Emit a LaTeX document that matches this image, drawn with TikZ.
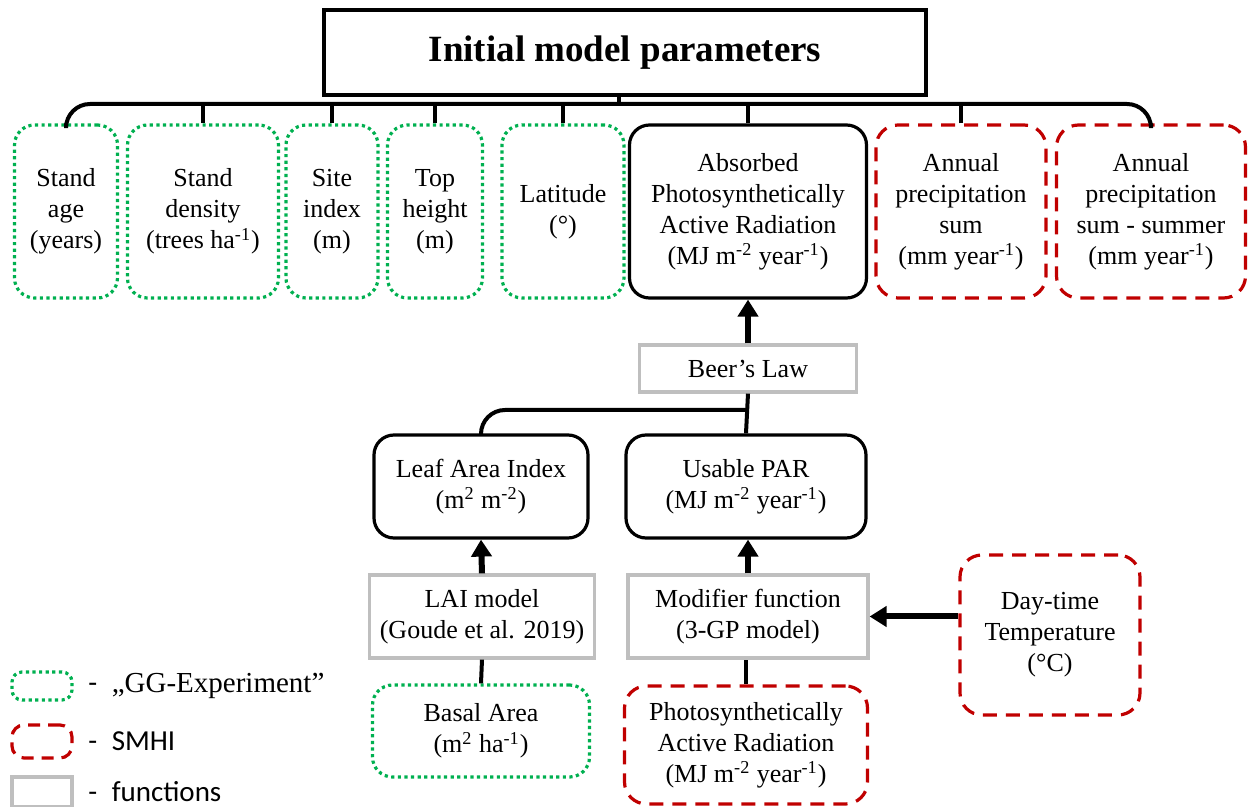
\documentclass[tikz,border=0pt]{standalone}
\usepackage{fontspec}
\setmainfont{Liberation Serif}
\newfontfamily\legendsans{Carlito}
\usepackage{xcolor}
\usetikzlibrary{arrows.meta}
\definecolor{gggreen}{RGB}{0,176,80}
\definecolor{smhired}{RGB}{192,0,0}
\definecolor{funcgray}{RGB}{191,191,191}
\tikzset{
  every node/.style={align=center, inner sep=0pt, font=\fontsize{13}{15.5}\selectfont},
  boxsize/.style 2 args={minimum width=#1*0.5pt, minimum height=#2*0.5pt},
  param/.style={draw=black, line width=1.6pt, rounded corners=10pt},
  gg/.style={draw=gggreen, line width=1.6pt, dash pattern=on 1.6pt off 1.7pt, rounded corners=10pt},
  smhi/.style={draw=smhired, line width=1.6pt, dash pattern=on 7pt off 4.5pt, rounded corners=11pt},
  func/.style={draw=funcgray, line width=1.6pt},
  link/.style={line width=2pt, black},
  feed/.style={line width=3pt, black, -{Triangle[width=10pt,length=8.5pt]}}
}
\begin{document}
\begin{tikzpicture}[x=0.5pt, y=-0.5pt]
\useasboundingbox (0,0) rectangle (1249,807);
\node (title) at (625,53) [draw, line width=2pt, boxsize={602}{85}, font=\fontsize{18.5}{22}\selectfont\bfseries] {Initial model parameters};
\node (age) at (66,211.5) [gg, boxsize={103}{173}] {Stand\\age\\(years)};
\node (density) at (203,211.5) [gg, boxsize={151}{173}] {Stand\\density\\(trees ha\textsuperscript{-1})};
\node (site) at (332,211.5) [gg, boxsize={92}{173}] {Site\\index\\(m)};
\node (top) at (435,211.5) [gg, boxsize={95}{173}] {Top\\height\\(m)};
\node (lat) at (563,211.5) [gg, boxsize={122}{173}] {Latitude\\(°)};
\node (apar) at (748,211.5) [param, boxsize={237}{173}] {Absorbed\\Photosynthetically\\Active Radiation\\(MJ m\textsuperscript{-2} year\textsuperscript{-1})};
\node (annual) at (961,211.5) [smhi, boxsize={170}{173}] {Annual\\precipitation\\sum\\(mm year\textsuperscript{-1})};
\node (summer) at (1151,211.5) [smhi, boxsize={189}{173}] {Annual\\precipitation\\sum - summer\\(mm year\textsuperscript{-1})};
\node (beer) at (748,368.5) [func, boxsize={217}{47}] {Beer’s Law};
\node (lai) at (481,486.5) [param, boxsize={214}{103}] {Leaf Area Index\\(m\textsuperscript{2} m\textsuperscript{-2})};
\node (usable) at (746,486.5) [param, boxsize={240}{103}] {Usable PAR\\(MJ m\textsuperscript{-2} year\textsuperscript{-1})};
\node (laimodel) at (482,616.5) [func, boxsize={225}{83}] {LAI model\\(Goude et al. 2019)};
\node (modifier) at (748,616.5) [func, boxsize={240}{83}] {Modifier function\\(3-GP model)};
\node (basal) at (481,731) [gg, boxsize={217}{92}] {Basal Area\\(m\textsuperscript{2} ha\textsuperscript{-1})};
\node (par) at (746,745) [smhi, boxsize={243}{118}] {Photosynthetically\\Active Radiation\\(MJ m\textsuperscript{-2} year\textsuperscript{-1})};
\node (daytemp) at (1050,635) [smhi, boxsize={180}{160}] {Day-time\\Temperature\\(°C)};
\node (keygg) at (42,686) [gg, rounded corners=5pt, boxsize={60}{28}] {};
\node (keysmhi) at (42,741.5) [smhi, dash pattern=on 6pt off 4pt, rounded corners=6pt, boxsize={60}{33}] {};
\node (keyfunc) at (42,792) [func, boxsize={60}{30}] {};
\node (labgg) at (88,686) [anchor=west, font=\fontsize{14.5}{17}\selectfont] {{\legendsans -}\enspace „GG-Experiment”};
\node (labsmhi) at (88,741.5) [anchor=west, font=\fontsize{14.5}{17}\legendsans] {-\enspace SMHI};
\node (labfunc) at (88,792) [anchor=west, font=\fontsize{14.5}{17}\legendsans] {-\enspace functions};
\coordinate (bus) at (619,104);
\coordinate (join) at (748,410);
\draw[link] (title.south -| bus) -- (bus);
\draw[link, rounded corners=12pt] (age.north) |- (bus) -| (summer.north);
\foreach \n in {density,site,top,lat,apar,annual} \draw[link] (\n.north) -- (\n.north |- bus);
\draw[feed] (beer.north) -- (apar.south);
\draw[link] (beer.south) -- (usable.north);
\draw[link, rounded corners=12pt] (join) -| (lai.north);
\draw[feed] (laimodel.north) -- (lai.south);
\draw[link] (basal.north) -- (laimodel.south);
\draw[feed] (modifier.north) -- (modifier.north |- usable.south);
\draw[link] (par.north) -- (par.north |- modifier.south);
\draw[feed] (daytemp.west |- modifier.east) -- (modifier.east);
\end{tikzpicture}
\end{document}
